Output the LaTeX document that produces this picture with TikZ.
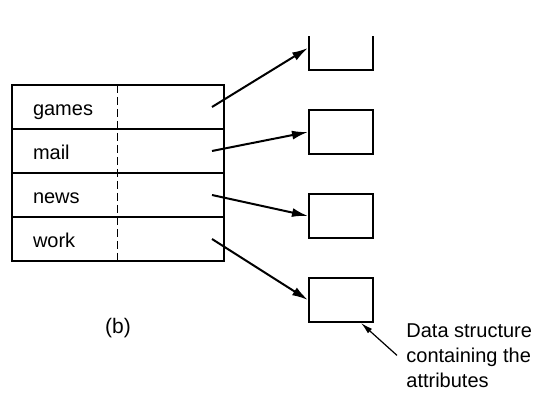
\documentclass[tikz,border=0pt]{standalone}
\usepackage{fontspec}
\setmainfont{Liberation Sans}
\usepackage{tikz}
\usetikzlibrary{arrows.meta}
\tikzset{%
  >={Latex[width=4.5pt,length=8pt]},
  % Specifications for style of nodes:
         row/.style = {rectangle, draw=black, line width=1pt, outer sep=0pt,
                       text width=85pt, inner xsep=10.5pt, minimum height=22pt,
                       text height=8.5pt, text depth=0pt,
                       align=left, font=\fontsize{10}{12.5}\selectfont},
     attrbox/.style = {rectangle, draw=black, line width=1pt,
                       minimum width=32pt, minimum height=22pt},
     divider/.style = {line width=0.5pt, dash pattern=on 4pt off 2pt},
     pointer/.style = {line width=0.6pt, -{Latex[width=3pt,length=6pt]}},
}
\begin{document}
\begin{tikzpicture}[x=0.5pt, y=-0.5pt, node distance=22pt]
  \useasboundingbox (0,0) rectangle (557,400);
  \node (games)   [row] at (118,107)         {games};
  \node (mail)    [row, below of=games]      {mail};
  \node (news)    [row, below of=mail]       {news};
  \node (work)    [row, below of=news]       {work};
  \draw[divider] ([xshift=52.5pt]games.north west) -- ([xshift=52.5pt]work.south west);
  \node (caption) [font=\fontsize{10.5}{12.5}\selectfont] at (118,328) {(b)};

  % first box is cut off at the top
  \begin{scope}
    \clip (290,37) rectangle (400,90);
    \node (box1) [attrbox] at (341,48) {};
  \end{scope}
  \node (box2)    [attrbox, below of=box1, node distance=42pt] {};
  \node (box3)    [attrbox, below of=box2, node distance=42pt] {};
  \node (box4)    [attrbox, below of=box3, node distance=42pt] {};

  \node (note) [anchor=north west, inner sep=0pt, align=left,
                font=\fontsize{10}{12.5}\selectfont] at (406,323)
               {Data structure\\containing the\\attributes};

  \draw[->, line width=1pt] ([xshift=-6pt]games.east) -- (box1.west);
  \draw[->, line width=1pt] ([xshift=-6pt]mail.east)  -- (box2.west);
  \draw[->, line width=1pt] ([xshift=-6pt]news.east)  -- (box3.west);
  \draw[->, line width=1pt] ([xshift=-6pt]work.east)  -- (box4.west);
  \draw[pointer] ([xshift=-4.5pt]note.west) -- ([xshift=-6.5pt]box4.south east);
\end{tikzpicture}
\end{document}
